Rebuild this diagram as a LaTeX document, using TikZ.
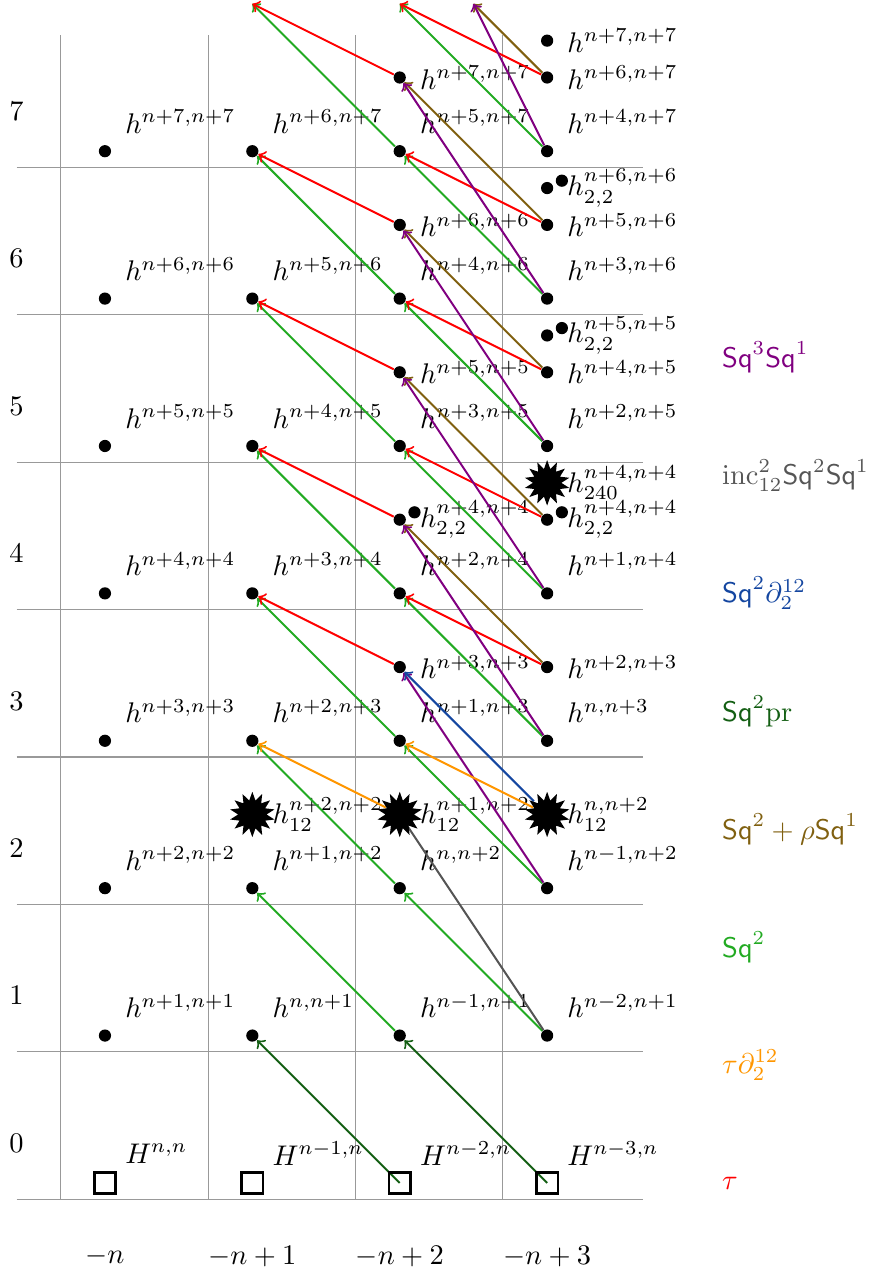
\documentclass[tikz,border=0pt]{standalone}
\usetikzlibrary{shapes.geometric}
\pgfdeclarelayer{fg}
\pgfsetlayers{main,fg}

\definecolor{taured}{RGB}{255,0,0}
\definecolor{taudel}{RGB}{255,150,0}
\definecolor{sqtwo}{RGB}{34,170,34}
\definecolor{sqrho}{RGB}{128,96,16}
\definecolor{sqpr}{RGB}{20,95,20}
\definecolor{sqdel}{RGB}{20,70,160}
\definecolor{incgray}{RGB}{85,85,85}
\definecolor{sqthree}{RGB}{128,0,128}

% n+m, n, n-m
\newcommand{\nsh}[1]{n\ifnum#1>0 +#1\fi\ifnum#1<0 #1\fi}

\tikzset{
  dot/.style={circle,fill,inner sep=0pt,minimum size=4.3pt},
  sqr/.style={draw,line width=0.9pt,inner sep=0pt,minimum size=7.5pt},
  burst/.style={star,star points=14,star point ratio=1.6,fill,inner sep=0pt,minimum size=16pt},
  lbl/.style={anchor=west},
  arr/.style={->,line width=0.7pt},
  grid line/.style={gray!80,line width=0.4pt},
}

\begin{document}
\begin{tikzpicture}[x=1.824cm,y=1.824cm]
  \useasboundingbox (-0.712,-0.638) rectangle (5.19,8.026);
  % grid
  \foreach \k in {0,...,7} \draw[grid line] (-0.6,\k-0.11) -- (3.65,\k-0.11);
  \foreach \c in {0,...,3} \draw[grid line] (\c-0.3,-0.11) -- (\c-0.3,7.79);
  \foreach \k in {0,...,7} \node (r\k) at (-0.6,\k+0.27) {$\k$};
  \foreach \c in {0,...,3} \node (c\c) at (\c,-0.5) {$-\nsh{\c}$};

  % generators
  \begin{pgfonlayer}{fg}
  \foreach \c in {0,...,3} {
    \node[sqr] (q\c) at (\c,0) {};
    \foreach \k in {1,...,7} \node[dot] (d\c\k) at (\c,\k) {};
  }
  \foreach \k in {3,...,7} {
    \node[dot] (a2\k) at (2,\k+0.5) {};
    \node[dot] (a3\k) at (3,\k+0.5) {};
  }
  \node[dot] (b24) at (2.1,4.55) {};
  \node[dot] (b34) at (3.1,4.55) {};
  \node[dot] (e35) at (3,5.75) {};
  \node[dot] (f35) at (3.1,5.8) {};
  \node[dot] (e36) at (3,6.75) {};
  \node[dot] (f36) at (3.1,6.8) {};
  \node[dot] (e37) at (3,7.75) {};
  \node[burst] (w34) at (3,4.75) {};
  \foreach \c in {1,2,3} \node[burst] (s\c) at (\c,2.5) {};
  \end{pgfonlayer}
  \coordinate (d18) at (1,8);
  \coordinate (d28) at (2,8);
  \coordinate (a28) at (2.5,8);

  % labels
  \foreach \c in {0,...,3} {
    \pgfmathtruncatemacro\p{-\c}
    \node[lbl] (lq\c) at (\c+0.07,0.2) {$H^{\nsh{\p},n}$};
    \foreach \k in {1,...,7} {
      \pgfmathtruncatemacro\p{\k-\c}
      \node[lbl] (l\c\k) at (\c+0.07,\k+0.2) {$h^{\nsh{\p},\nsh{\k}}$};
    }
  }
  \foreach \k in {3,5,6,7} {
    \pgfmathtruncatemacro\p{\k-1}
    \node[lbl] (m2\k) at (2.07,\k+0.5) {$h^{\nsh{\k},\nsh{\k}}$};
    \node[lbl] (m3\k) at (3.07,\k+0.5) {$h^{\nsh{\p},\nsh{\k}}$};
  }
  \node[lbl] (m24) at (2.07,4.5) {$h_{2,2}^{n+4,n+4}$};
  \node[lbl] (m34) at (3.07,4.5) {$h_{2,2}^{n+4,n+4}$};
  \node[lbl] (n34) at (3.07,4.75) {$h_{240}^{n+4,n+4}$};
  \node[lbl] (n35) at (3.07,5.75) {$h_{2,2}^{n+5,n+5}$};
  \node[lbl] (n36) at (3.07,6.75) {$h_{2,2}^{n+6,n+6}$};
  \node[lbl] (n37) at (3.07,7.75) {$h^{n+7,n+7}$};
  \node[lbl] (ls1) at (1.07,2.5) {$h_{12}^{n+2,n+2}$};
  \node[lbl] (ls2) at (2.07,2.5) {$h_{12}^{n+1,n+2}$};
  \node[lbl] (ls3) at (3.07,2.5) {$h_{12}^{n,n+2}$};

  % operations
  \foreach \k [evaluate=\k as \j using int(\k+1)] in {1,...,7} {
    \draw[arr,sqtwo] (d2\k) -- (d1\j);
    \draw[arr,sqtwo] (d3\k) -- (d2\j);
  }
  \foreach \k [evaluate=\k as \j using int(\k+1)] in {3,...,7} {
    \draw[arr,taured] (a2\k) -- (d1\j);
    \draw[arr,taured] (a3\k) -- (d2\j);
    \draw[arr,sqrho] (a3\k) -- (a2\j);
  }
  \foreach \k [evaluate=\k as \j using int(\k+1)] in {2,...,7}
    \draw[arr,sqthree] (d3\k) -- (a2\j);
  \draw[arr,sqdel] (s3) -- (a23);
  \draw[arr,taudel] (s3) -- (d23);
  \draw[arr,taudel] (s2) -- (d13);
  \draw[arr,incgray] (d31) -- (s2.center);
  \draw[arr,sqpr] (q2.center) -- (d11);
  \draw[arr,sqpr] (q3.center) -- (d21);

  % legend
  \node[lbl,text=sqthree] (g7) at (4.12,5.6) {$\mathsf{Sq}^3\mathsf{Sq}^1$};
  \node[lbl,text=incgray] (g6) at (4.12,4.8) {$\mathrm{inc}^2_{12}\mathsf{Sq}^2\mathsf{Sq}^1$};
  \node[lbl,text=sqdel] (g5) at (4.12,4.0) {$\mathsf{Sq}^2\partial_2^{12}$};
  \node[lbl,text=sqpr] (g4) at (4.12,3.2) {$\mathsf{Sq}^2\mathrm{pr}$};
  \node[lbl,text=sqrho] (g3) at (4.12,2.4) {$\mathsf{Sq}^2+\rho\mathsf{Sq}^1$};
  \node[lbl,text=sqtwo] (g2) at (4.12,1.6) {$\mathsf{Sq}^2$};
  \node[lbl,text=taudel] (g1) at (4.12,0.8) {$\tau\partial_2^{12}$};
  \node[lbl,text=taured] (g0) at (4.12,0) {$\tau$};
\end{tikzpicture}
\end{document}
